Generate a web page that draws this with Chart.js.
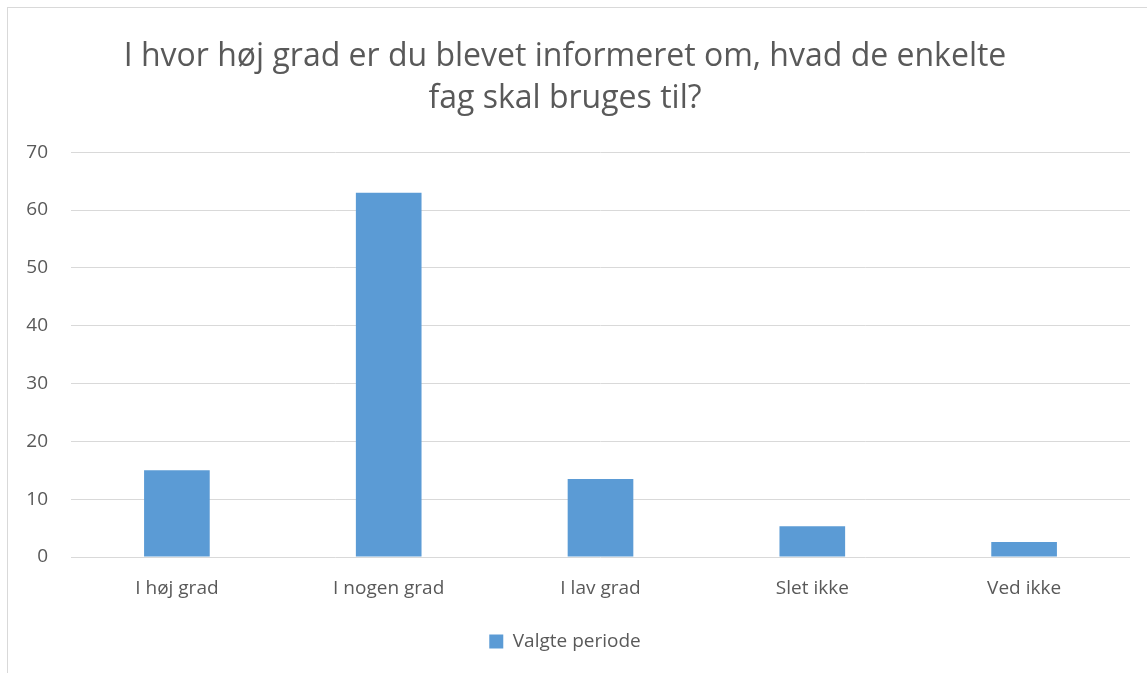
<!DOCTYPE html>
<html>
<head>
<meta charset="utf-8">
<script src="https://cdn.jsdelivr.net/npm/chart.js@4/dist/chart.umd.min.js"></script>
<style>
  html, body { margin: 0; padding: 0; background: #fff; overflow: hidden; }
  #frame { position: absolute; left: 7px; top: 7px; width: 1200px; height: 700px; border: 1px solid #d9d9d9; }
  #wrap { position: absolute; left: 0; top: 0; width: 1147px; height: 673px; }
</style>
</head>
<body>
<div id="frame"></div>
<div id="wrap"><canvas id="chart"></canvas></div>
<script>
const titleLines = ['I hvor høj grad er du blevet informeret om, hvad de enkelte', 'fag skal bruges til?'];
const categories = ['I høj grad', 'I nogen grad', 'I lav grad', 'Slet ikke', 'Ved ikke'];
const seriesName = 'Valgte periode';
const values = [15, 63, 13.5, 5.3, 2.6];
const yTicks = [0, 10, 20, 30, 40, 50, 60, 70];

document.addEventListener('DOMContentLoaded', function () {
    const ctx = document.getElementById('chart');
    new Chart(ctx, {
        type: 'bar',
        data: {
            labels: categories,
            datasets: [{
                label: seriesName,
                data: values,
                backgroundColor: '#5b9bd5',
                barPercentage: 0.31,
                categoryPercentage: 1
            }]
        },
        options: {
            responsive: true,
            maintainAspectRatio: false,
            animation: false,
            layout: { padding: { left: 0, right: 17, top: 0, bottom: 12 } },
            plugins: {
                title: {
                    display: true,
                    text: titleLines,
                    color: '#595959',
                    font: { family: 'Open Sans', size: 32, weight: 'normal', lineHeight: 1.3 },
                    padding: { top: 36, bottom: 33 }
                },
                legend: {
                    position: 'bottom',
                    labels: {
                        color: '#595959',
                        font: { family: 'Open Sans', size: 19 },
                        boxWidth: 14,
                        boxHeight: 14,
                        padding: 10
                    }
                },
                tooltip: { enabled: false }
            },
            scales: {
                x: {
                    grid: { display: false },
                    border: { display: false },
                    ticks: { color: '#595959', font: { family: 'Open Sans', size: 19 }, padding: 12 },
                    afterFit: function (scale) { scale.height = 65; }
                },
                y: {
                    min: 0,
                    max: 70,
                    afterBuildTicks: function (scale) { scale.ticks = yTicks.map(v => ({ value: v })); },
                    grid: { color: '#d9d9d9', drawTicks: false },
                    border: { display: false },
                    ticks: { color: '#595959', font: { family: 'Open Sans', size: 19 }, padding: 23 },
                    afterFit: function (scale) { scale.width = 71; }
                }
            }
        }
    });
});
</script>
</body>
</html>
